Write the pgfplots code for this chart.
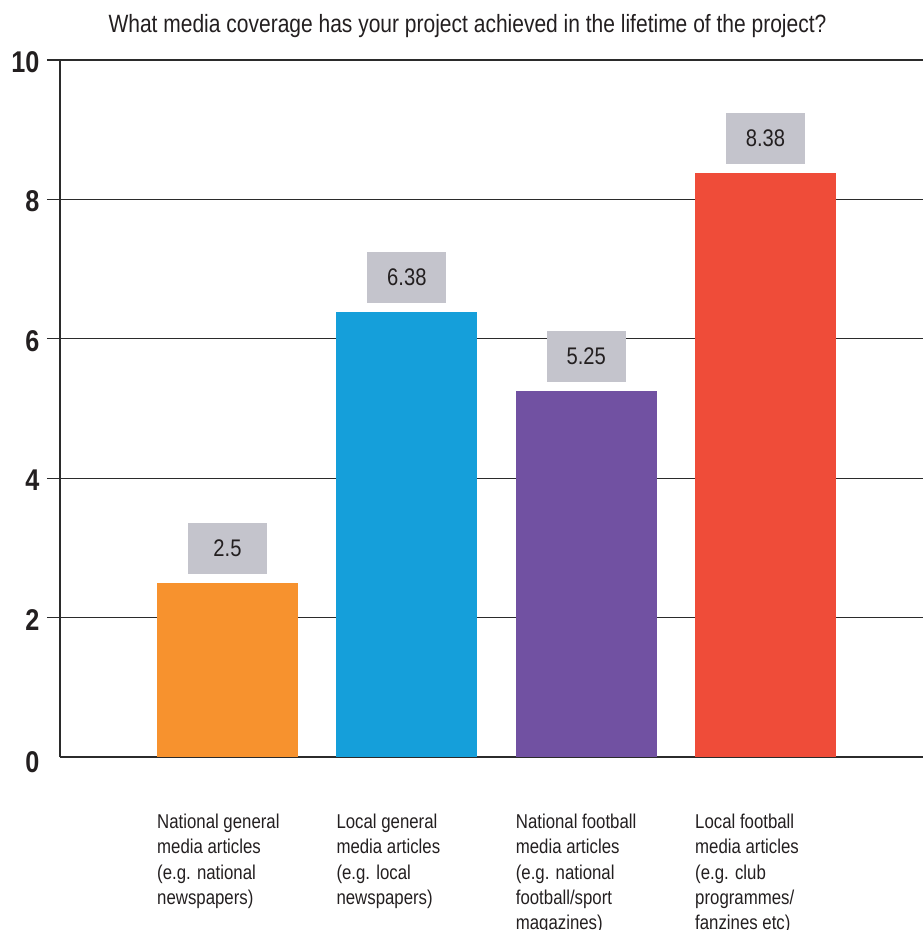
\documentclass[border=0pt]{standalone}
\usepackage{pgfplots}
\pgfplotsset{compat=1.18}
\usepackage{fontspec}
\setmainfont{Liberation Sans}[FakeStretch=0.84]
\definecolor{txt}{HTML}{231F20}
\definecolor{boxgray}{HTML}{C4C4CC}
\definecolor{corange}{HTML}{F7922E}
\definecolor{cblue}{HTML}{159FDA}
\definecolor{cpurple}{HTML}{7151A2}
\definecolor{cred}{HTML}{EF4C39}
\definecolor{gridc}{HTML}{2B2B2B}
\begin{document}
\begin{tikzpicture}
\path[use as bounding box] (-60pt,-173pt) rectangle (863pt,757pt);
\begin{axis}[
  at={(0pt,0pt)}, anchor=south west,
  scale only axis, width=863pt, height=697pt,
  xmin=0.066, xmax=4.878, ymin=0, ymax=10,
  clip=false,
  axis line style={draw=none},
  ybar, bar width=141pt,
  xtick={1,2,3,4},
  xticklabels={National general\\media articles\\(e.g. national\\newspapers),
    Local general\\media articles\\(e.g. local\\newspapers),
    National football\\media articles\\(e.g. national\\football/sport\\magazines),
    Local football\\media articles\\(e.g. club\\programmes/\\fanzines etc)},
  xticklabel style={align=left, anchor=north west, inner sep=0pt, xshift=-70.5pt, yshift=-44pt,
    font=\fontsize{20}{25.3}\selectfont, text=txt},
  x tick style={draw=none},
  ytick={2,4,6,8,10},
  extra y ticks={0},
  extra y tick style={major tick length=0pt, yticklabel style={xshift=-13pt, yshift=-3pt}},
  ymajorgrids, grid style={draw=gridc, line width=1.2pt},
  y tick style={draw=gridc, line width=1.2pt},
  tick align=outside, major tick length=13pt,
  yticklabel style={font=\fontsize{30}{30}\bfseries, text=txt, xshift=-4pt, yshift=-2pt},
  /pgf/number format/assume math mode=true,
  point meta=explicit symbolic,
  nodes near coords,
  nodes near coords style={fill=boxgray, minimum width=79pt, minimum height=51pt, inner sep=0pt,
    anchor=south, yshift=9pt, font=\fontsize{24}{24}\selectfont, text=txt},
]
\addplot[fill=corange, draw=none, bar shift=0pt] coordinates {(1,2.5) [2.5]};
\addplot[fill=cblue, draw=none, bar shift=0pt] coordinates {(2,6.38) [6.38]};
\addplot[fill=cpurple, draw=none, bar shift=0pt] coordinates {(3,5.25) [5.25]};
\addplot[fill=cred, draw=none, bar shift=0pt] coordinates {(4,8.38) [8.38]};
\draw[gridc, line width=1.2pt] (axis cs:0.066,0) -- (axis cs:0.066,10);
\end{axis}
\node[text=txt, font=\fontsize{25}{25}\selectfont] at (407.5pt,731pt)
  {What media coverage has your project achieved in the lifetime of the project?};
\end{tikzpicture}
\end{document}
